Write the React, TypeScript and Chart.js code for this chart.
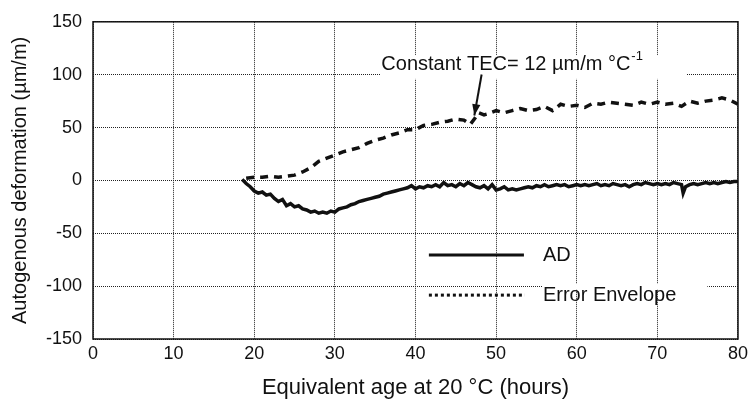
import React, { useEffect, useRef } from "react";
import { Chart, registerables } from "chart.js";

Chart.register(...registerables);

// ---- data ----
const AD_HOURS = [
  18.5, 19, 19.5, 20, 20.5, 21, 21.5, 22, 22.5, 23, 23.5, 24, 24.5, 25, 25.5, 26, 26.5, 27, 27.5, 28, 28.5, 29, 29.5, 30,
  30.5, 31, 31.5, 32, 32.5, 33, 33.5, 34, 34.5, 35, 35.5, 36, 36.5, 37, 37.5, 38, 38.5, 39, 39.5, 40, 40.5, 41, 41.5, 42,
  42.5, 43, 43.5, 44, 44.5, 45, 45.5, 46, 46.5, 47, 47.5, 48, 48.5, 49, 49.5, 50, 50.5, 51, 51.5, 52, 52.5, 53, 53.5, 54,
  54.5, 55, 55.5, 56, 56.5, 57, 57.5, 58, 58.5, 59, 59.5, 60, 60.5, 61, 61.5, 62, 62.5, 63, 63.5, 64, 64.5, 65, 65.5, 66,
  66.5, 67, 67.5, 68, 68.5, 69, 69.5, 70, 70.5, 71, 71.5, 72, 72.5, 73, 73.2, 73.5, 74, 74.5, 75, 75.5, 76, 76.5, 77, 77.5,
  78, 78.5, 79, 79.5, 80,
];
const AD_VALUES = [
  1, -3, -6, -10, -12, -11, -14, -13, -17, -20, -18, -24, -22, -25, -24, -27, -28, -30, -29, -31, -30, -31, -29, -30,
  -27, -26, -25, -23, -22, -20, -19, -18, -17, -16, -15, -13, -12, -11, -10, -9, -8, -7, -5, -8, -6, -7, -5, -6,
  -4, -6, -2, -5, -4, -6, -3, -5, -2, -4, -6, -7, -5, -8, -4, -9, -8, -6, -9, -8, -9, -8, -7, -6,
  -7, -5, -6, -4, -6, -5, -4, -5, -4, -6, -5, -4, -5, -4, -5, -4, -3, -5, -4, -5, -3, -4, -5, -4,
  -6, -4, -3, -4, -2, -3, -4, -3, -4, -3, -4, -2, -3, -4, -12, -6, -4, -3, -4, -3, -2, -3, -2, -3,
  -2, -1, -2, -1, -1,
];
const ENV_HOURS = [
  19, 20, 21, 22, 23, 24, 25, 26, 27, 28, 29, 30, 31, 32, 33, 34, 35, 36, 37, 38, 39, 40, 41, 42, 43, 44, 45, 46, 46.8,
  47.3, 47.8, 48.5, 49, 50, 51, 52, 53, 54, 55, 56, 57, 58, 59, 60, 61, 62, 63, 64, 65, 66, 67, 68, 69, 70, 71, 72, 73,
  74, 75, 76, 77, 78, 79, 80,
];
const ENV_VALUES = [
  2, 3, 3, 4, 3, 4, 5, 8, 12, 18, 21, 24, 27, 29, 31, 35, 38, 40, 43, 45, 48, 48, 52, 53, 55, 56, 58, 57, 53,
  58, 64, 62, 63, 66, 64, 66, 68, 66, 67, 70, 66, 72, 70, 71, 69, 73, 72, 74, 73, 72, 71, 74, 72, 74, 72, 73, 70,
  75, 73, 75, 76, 78, 76, 72,
];
const SERIES_LABELS = ["AD", "Error Envelope"];
const X_TICKS = [0, 10, 20, 30, 40, 50, 60, 70, 80];
const Y_TICKS = [-150, -100, -50, 0, 50, 100, 150];
const X_TITLE = "Equivalent age at 20 \u00B0C (hours)";
const Y_TITLE = "Autogenous deformation (\u00B5m/m)";
const ANNOTATION_TEXT = "Constant TEC= 12 \u00B5m/m \u00B0C";
const ANNOTATION_SUP = "-1";

const FONT = "'Liberation Sans', Arial, Helvetica, sans-serif";

const overlayPlugin = {
  id: "overlay",
  beforeDatasetsDraw(chart: any) {
    const { ctx, chartArea } = chart;
    const xs = chart.scales.x;
    const ys = chart.scales.y;
    ctx.save();
    // white boxes behind annotation and legend text
    ctx.fillStyle = "#ffffff";
    const bx1 = xs.getPixelForValue(35.6);
    const bx2 = xs.getPixelForValue(73.6);
    ctx.fillRect(bx1, ys.getPixelForValue(118.5), bx2 - bx1, ys.getPixelForValue(96) - ys.getPixelForValue(118.5));
    const lx1 = xs.getPixelForValue(55.8);
    const lx2 = xs.getPixelForValue(76.2);
    ctx.fillRect(lx1, ys.getPixelForValue(-98), lx2 - lx1, 5);
    // frame
    ctx.strokeStyle = "#111";
    ctx.lineWidth = 1.5;
    ctx.setLineDash([]);
    ctx.strokeRect(chartArea.left, chartArea.top, chartArea.right - chartArea.left, chartArea.bottom - chartArea.top);
    ctx.restore();
  },
  afterDatasetsDraw(chart: any) {
    const { ctx } = chart;
    const xs = chart.scales.x;
    const ys = chart.scales.y;
    ctx.save();
    ctx.fillStyle = "#111";
    ctx.strokeStyle = "#111";
    // annotation
    ctx.font = `20px ${FONT}`;
    ctx.textBaseline = "middle";
    ctx.textAlign = "left";
    const tx = xs.getPixelForValue(35.76);
    const ty = ys.getPixelForValue(109.4);
    ctx.fillText(ANNOTATION_TEXT, tx, ty);
    const w = ctx.measureText(ANNOTATION_TEXT).width;
    ctx.font = `13px ${FONT}`;
    ctx.fillText(ANNOTATION_SUP, tx + w + 1, ty - 8);
    // arrow
    const ax1 = xs.getPixelForValue(48.2), ay1 = ys.getPixelForValue(100.2);
    const ax2 = xs.getPixelForValue(47.3), ay2 = ys.getPixelForValue(61.4);
    ctx.lineWidth = 2;
    ctx.beginPath();
    ctx.moveTo(ax1, ay1);
    ctx.lineTo(ax2, ay2);
    ctx.stroke();
    const ang = Math.atan2(ay2 - ay1, ax2 - ax1);
    ctx.beginPath();
    ctx.moveTo(ax2, ay2);
    ctx.lineTo(ax2 - 12 * Math.cos(ang - 0.35), ay2 - 12 * Math.sin(ang - 0.35));
    ctx.lineTo(ax2 - 12 * Math.cos(ang + 0.35), ay2 - 12 * Math.sin(ang + 0.35));
    ctx.closePath();
    ctx.fill();
    // legend
    ctx.font = `20px ${FONT}`;
    const l1 = xs.getPixelForValue(41.66), l2 = xs.getPixelForValue(53.45), lt = xs.getPixelForValue(55.8);
    const r1 = ys.getPixelForValue(-70.6), r2 = ys.getPixelForValue(-108.5);
    ctx.lineWidth = 3;
    ctx.beginPath();
    ctx.moveTo(l1, r1);
    ctx.lineTo(l2, r1);
    ctx.stroke();
    ctx.fillText(SERIES_LABELS[0], lt, r1);
    ctx.setLineDash([3, 3]);
    ctx.beginPath();
    ctx.moveTo(l1, r2);
    ctx.lineTo(l2 + 1, r2);
    ctx.stroke();
    ctx.setLineDash([]);
    ctx.fillText(SERIES_LABELS[1], lt, r2);
    ctx.restore();
  },
};

export default function App() {
  const ref = useRef<HTMLCanvasElement>(null);
  useEffect(() => {
    document.body.style.margin = "0";
    const canvas = ref.current!;
    const chart = new Chart(canvas, {
      type: "line",
      data: {
        datasets: [
          {
            label: SERIES_LABELS[0],
            data: AD_HOURS.map((h, i) => ({ x: h, y: AD_VALUES[i] })),
            borderColor: "#111",
            borderWidth: 3.5,
            pointRadius: 0,
            tension: 0,
          },
          {
            label: SERIES_LABELS[1],
            data: ENV_HOURS.map((h, i) => ({ x: h, y: ENV_VALUES[i] })),
            borderColor: "#111",
            borderWidth: 3.5,
            borderDash: [8, 6],
            pointRadius: 0,
            tension: 0,
          },
        ],
      },
      options: {
        animation: false,
        responsive: false,
        maintainAspectRatio: false,
        layout: { padding: { left: 0, right: 8, top: 14, bottom: 0 } },
        plugins: { legend: { display: false }, tooltip: { enabled: false } },
        scales: {
          x: {
            type: "linear",
            min: 0,
            max: 80,
            afterFit: (s: any) => {
              s.height = 65;
            },
            afterBuildTicks: (s: any) => {
              s.ticks = X_TICKS.map((v) => ({ value: v }));
            },
            grid: { color: "#222", lineWidth: 1, drawTicks: false },
            border: { display: false, dash: [1, 1] },
            ticks: { color: "#111", font: { family: FONT, size: 18 }, padding: 4 },
            title: {
              display: true,
              text: X_TITLE,
              color: "#111",
              font: { family: FONT, size: 22 },
              padding: { top: 0, bottom: 3 },
            },
          },
          y: {
            type: "linear",
            min: -150,
            max: 150,
            afterFit: (s: any) => {
              s.width = 93;
            },
            afterBuildTicks: (s: any) => {
              s.ticks = Y_TICKS.map((v) => ({ value: v }));
            },
            grid: { color: "#222", lineWidth: 1, drawTicks: false },
            border: { display: false, dash: [1, 1] },
            ticks: { color: "#111", font: { family: FONT, size: 18 }, padding: 11 },
            title: {
              display: true,
              text: Y_TITLE,
              color: "#111",
              font: { family: FONT, size: 20 },
              padding: { top: 8, bottom: 0 },
            },
          },
        },
      },
      plugins: [overlayPlugin],
    });
    return () => chart.destroy();
  }, []);
  return <canvas ref={ref} width={752} height={404} style={{ display: "block" }} />;
}
